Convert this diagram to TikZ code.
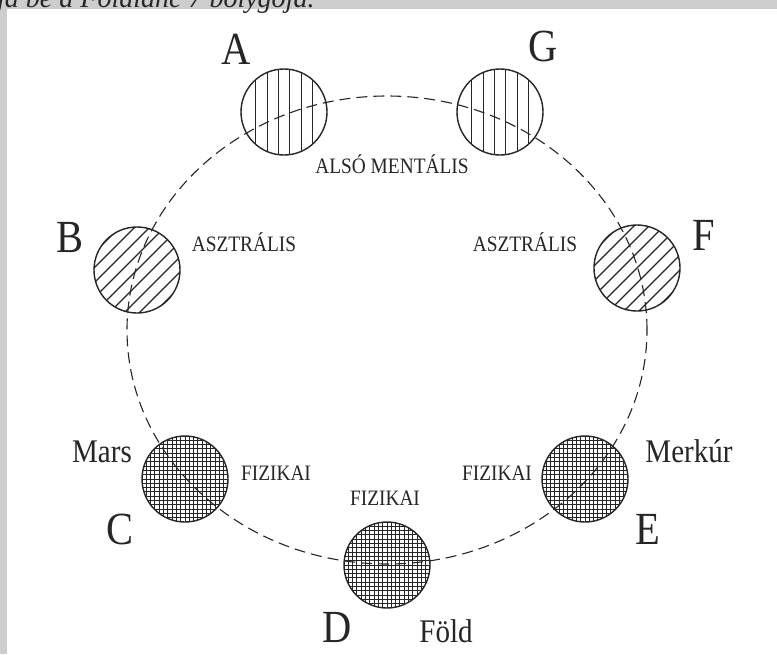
\documentclass[tikz,border=0pt]{standalone}
\usepackage{fontspec}
\setmainfont{Liberation Serif}
\newfontfamily\narrowserif[FakeStretch=0.88]{Liberation Serif}
\definecolor{ink}{HTML}{262626}
\definecolor{marble}{HTML}{CDCDCD}
\tikzset{
  disc/.style={circle, draw=ink, line width=1.4pt, minimum size=86pt, inner sep=0pt},
  mental/.style={disc, path picture={\foreach \dx in {-28.5,-16.5,-5.5,5.5,17.5,28.5}
      \draw[ink, line width=1.2pt] ([xshift=\dx pt]path picture bounding box.north) -- ([xshift=\dx pt]path picture bounding box.south);}},
  astral/.style={disc, path picture={\foreach \i in {-6,...,6}
      \draw[ink, line width=1.1pt] ([xshift=\i*15pt-50pt, yshift=-50pt]path picture bounding box.center) -- ++(100pt,100pt);}},
  physical/.style={disc, path picture={\foreach \i in {-10,...,10}{
      \draw[ink, line width=1pt] ([xshift=\i*4.3pt]path picture bounding box.north) -- ([xshift=\i*4.3pt]path picture bounding box.south);
      \draw[ink, line width=1pt] ([yshift=\i*4.3pt]path picture bounding box.west) -- ([yshift=\i*4.3pt]path picture bounding box.east);}}},
  orbit/.style={ink, line width=1.1pt, dash pattern=on 11pt off 6pt},
  letter/.style={anchor=base, inner sep=0pt, text=ink, font=\narrowserif\fontsize{46}{46}\selectfont},
  planet/.style={anchor=base, inner sep=0pt, text=ink, font=\narrowserif\fontsize{33}{33}\selectfont},
  plane/.style={anchor=base, inner sep=0pt, text=ink, font=\narrowserif\fontsize{22}{22}\selectfont}
}

\begin{document}
\begin{tikzpicture}[x=1pt,y=-1pt]
\useasboundingbox (0,0) rectangle (777,654);
\clip (0,0) rectangle (777,654);
\fill[white] (0,0) rectangle (777,654);
\fill[marble] (0,0) rectangle (777,9);
\fill[marble] (0,0) rectangle (7,654);
\node[anchor=base west, inner sep=0pt, text=ink, font=\itshape\fontsize{28}{28}\selectfont] (caption) at (-3,7) {ja be a Földlánc 7 bolygója.};

\node[mental] (discA) at (284,112) {};
\node[mental] (discG) at (500,112) {};
\node[astral] (discB) at (137,270) {};
\node[astral] (discF) at (637,268) {};
\node[physical] (discC) at (185,479) {};
\node[physical] (discE) at (585,479) {};
\node[physical] (discD) at (387,565) {};

\draw[orbit] (387,330) ellipse [x radius=260pt, y radius=234pt];

\node[letter] (lblA) at (236,64) {A};
\node[letter] (lblG) at (543,61) {G};
\node[letter] (lblB) at (70,252) {B};
\node[letter] (lblF) at (704,250) {F};
\node[letter] (lblC) at (120,544) {C};
\node[letter] (lblE) at (648,544) {E};
\node[letter] (lblD) at (337,642) {D};

\node[planet] (mars) at (102,462) {Mars};
\node[planet] (merkur) at (689,462) {Merkúr};
\node[planet] (fold) at (446,642) {Föld};

\node[plane] (mentA) at (392,173) {ALSÓ MENTÁLIS};
\node[plane] (astB) at (244,251) {ASZTRÁLIS};
\node[plane] (astF) at (525,251) {ASZTRÁLIS};
\node[plane] (fizC) at (276,480) {FIZIKAI};
\node[plane] (fizE) at (497,480) {FIZIKAI};
\node[plane] (fizD) at (385,505) {FIZIKAI};
\end{tikzpicture}
\end{document}
